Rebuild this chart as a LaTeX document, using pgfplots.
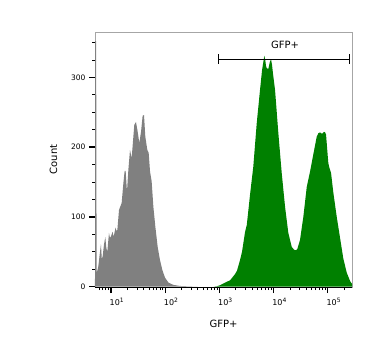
\documentclass[border=0pt]{standalone}
\usepackage{fontspec}
\setmainfont{DejaVu Sans}
\usepackage{pgfplots}
\usepackage{pgfplotstable}
\pgfplotsset{compat=1.18}
\definecolor{histgray}{RGB}{128,128,128}
\definecolor{histgreen}{RGB}{0,128,0}

\pgfplotstableread{
lx y
0.705 0
0.706 352
0.726 352
0.735 20
0.745 22
0.766 29
0.790 45
0.815 61
0.830 40
0.846 43
0.870 60
0.895 71
0.915 55
0.932 50
0.963 77
0.980 70
1.000 72
1.031 79
1.045 72
1.055 74
1.086 85
1.100 80
1.117 81
1.148 110
1.197 120
1.228 148
1.252 166
1.270 166
1.295 136
1.320 167
1.351 196
1.381 184
1.430 232
1.461 236
1.486 225
1.523 206
1.554 222
1.584 245
1.609 246
1.633 215
1.670 196
1.695 192
1.720 165
1.750 151
1.781 115
1.818 86
1.861 57
1.904 38
1.947 24
1.996 13
2.058 6
2.150 2.5
2.273 1
2.458 0.3
2.600 0
}\graydata

\pgfplotstableread{
lx y
2.900 0
2.950 0.5
3.011 2
3.135 7
3.196 9
3.288 18
3.325 23
3.380 38
3.417 50
3.441 62
3.472 78
3.504 88
3.535 110
3.565 132
3.625 172
3.688 234
3.749 282
3.786 310
3.828 331
3.845 325
3.860 316
3.875 313
3.902 312
3.930 322
3.952 326
3.970 318
3.989 305
4.026 282
4.087 220
4.149 163
4.210 115
4.271 77
4.334 57
4.376 53
4.410 52
4.437 54
4.487 67
4.548 100
4.611 143
4.672 165
4.733 190
4.795 215
4.826 220
4.856 221
4.893 219
4.930 222
4.950 221
4.967 218
4.990 195
5.009 177
5.030 170
5.059 163
5.101 135
5.164 100
5.225 70
5.286 40
5.349 20
5.410 8
5.446 4
}\greendata

\begin{document}
\begin{tikzpicture}[x=1pt,y=1pt]
\path[use as bounding box] (-95,-69) rectangle (277,287);
\begin{axis}[
  at={(0,0)}, anchor=south west,
  scale only axis, width=257pt, height=255pt,
  xmode=log, log basis x=10,
  xmin=5.07, xmax=2.79e5, ymin=-0.5, ymax=365,
  axis line style={gray!70, line width=0.6pt},
  tick pos=left, tick align=outside,
  major tick length=6pt, minor tick length=3pt,
  every major tick/.style={black, line width=1.3pt},
  every minor tick/.style={black, line width=0.7pt},
  /pgf/number format/assume math mode=true,
  xtick={10,100,1000,10000,100000},
  xticklabels={\textrm{10\textsuperscript{1}},\textrm{10\textsuperscript{2}},\textrm{10\textsuperscript{3}},\textrm{10\textsuperscript{4}},\textrm{10\textsuperscript{5}}},
  minor xtick={6,7,8,9,20,30,40,50,60,70,80,90,200,300,400,500,600,700,800,900,2000,3000,4000,5000,6000,7000,8000,9000,20000,30000,40000,50000,60000,70000,80000,90000,200000},
  ytick={0,100,200,300},
  minor ytick={25,50,75,125,150,175,225,250,275,325,350},
  xticklabel style={font=\fontsize{8}{9}\selectfont, xshift=6pt, yshift=-2pt},
  yticklabel style={font=\fontsize{7.5}{8}\selectfont},
  xlabel={GFP+}, ylabel={Count},
  xlabel style={yshift=-7pt},
  ylabel style={yshift=7pt},
  label style={font=\fontsize{10}{12}\selectfont},
  clip=true,
]
\addplot[fill=histgray, draw=none] table[x expr={10^(\thisrow{lx})}, y=y] {\graydata} \closedcycle;
\addplot[fill=histgreen, draw=none] table[x expr={10^(\thisrow{lx})}, y=y] {\greendata} \closedcycle;
\addplot[black, line width=0.9pt, mark=|, mark size=5pt, mark options={line width=0.9pt}] coordinates {(955,326) (2.54e5,326)};
\node[font=\fontsize{10}{12}\selectfont] at (axis cs:16200,347) {GFP+};
\draw[black, line width=0.9pt] (rel axis cs:0,0) -- (rel axis cs:1,0);
\end{axis}
\end{tikzpicture}
\end{document}
